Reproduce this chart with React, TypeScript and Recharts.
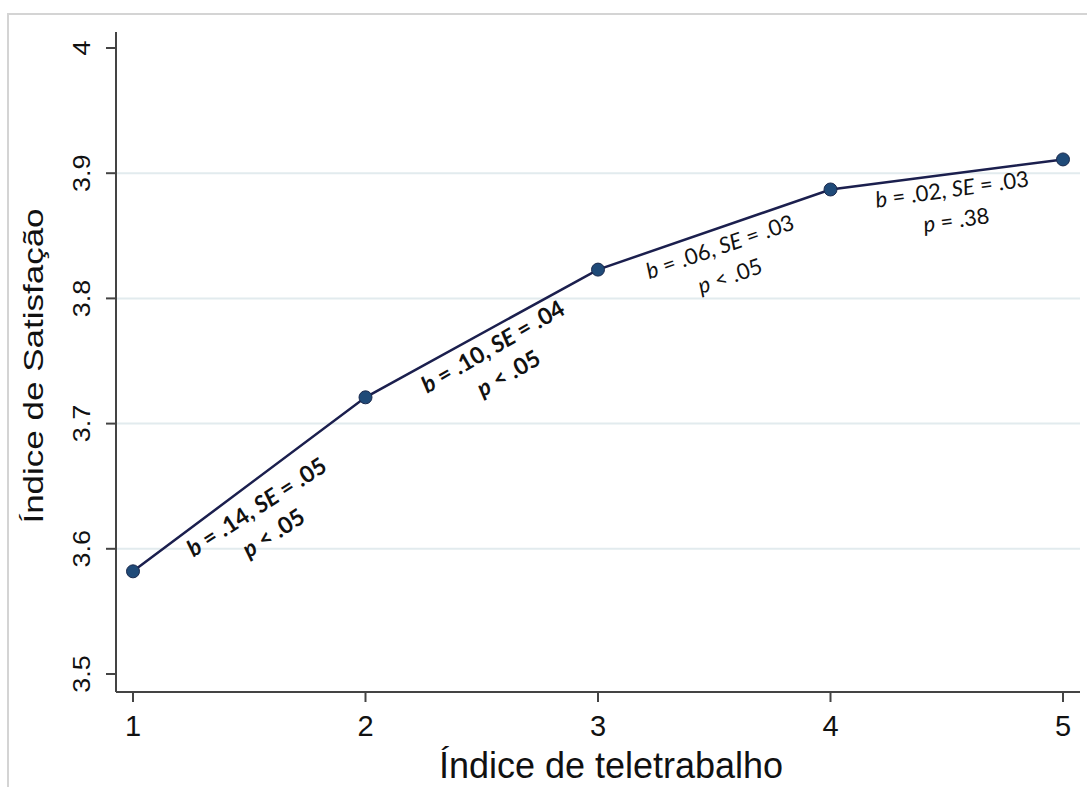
import React from 'react';
import { LineChart, Line, XAxis, YAxis, ReferenceLine, ReferenceDot } from 'recharts';

// teletrabalho index vs satisfaction (predicted margins)
const teleIndex = [1, 2, 3, 4, 5];
const satisfaction = [3.582, 3.721, 3.823, 3.887, 3.911];

const xTicks = [1, 2, 3, 4, 5];
const yTicks = [3.5, 3.6, 3.7, 3.8, 3.9, 4];
const gridValues = [3.6, 3.7, 3.8, 3.9];

// slope annotations between consecutive points
const annX = [1.55, 2.565, 3.535, 4.527];
const annY = [3.628, 3.756, 3.8355, 3.881];
const annB = ['.14', '.10', '.06', '.02'];
const annSE = ['.05', '.04', '.03', '.03'];
const annP = ['< .05', '< .05', '< .05', '= .38'];
const annAngle = [-33, -30, -19, -8];
const annBold = [true, true, false, false];

const data = teleIndex.map((x, i) => ({ x, y: satisfaction[i] }));

const axisFont = '"Liberation Sans", Arial, sans-serif';
const annFont = 'Lato, "Open Sans", sans-serif';

const YTick = (props: any) => {
  const { y, payload } = props;
  return (
    <text
      transform={`translate(90, ${y}) scale(0.92, 1) rotate(-90)`}
      textAnchor="middle"
      fontFamily={axisFont}
      fontSize={27}
      fill="#111"
    >
      {String(payload.value)}
    </text>
  );
};

const XTick = (props: any) => {
  const { x, payload } = props;
  return (
    <text x={x} y={736} textAnchor="middle" fontFamily={axisFont} fontSize={29} fill="#111">
      {String(payload.value)}
    </text>
  );
};

const makeAnnotation = (i: number) => (props: any) => {
  const { cx, cy } = props;
  const weight = annBold[i] ? 700 : 400;
  const size = annBold[i] ? 23 : 22;
  return (
    <g transform={`translate(${cx}, ${cy}) rotate(${annAngle[i]})`}>
      <text x={0} y={0} textAnchor="middle" fontFamily={annFont} fontSize={size} fontWeight={weight} fill="#111">
        <tspan fontStyle="italic">b</tspan>
        {` = ${annB[i]}, `}
        <tspan fontStyle="italic">SE</tspan>
        {` = ${annSE[i]}`}
      </text>
      <text x={0} y={31} textAnchor="middle" fontFamily={annFont} fontSize={size} fontWeight={weight} fill="#111">
        <tspan fontStyle="italic">p</tspan>
        {` ${annP[i]}`}
      </text>
    </g>
  );
};

export default function App() {
  return (
    <div style={{ position: 'absolute', left: 0, top: 0, width: 1087, height: 787, background: '#fff', overflow: 'hidden' }}>
      <div
        style={{
          position: 'absolute',
          left: 7,
          top: 13,
          width: 1100,
          height: 800,
          borderLeft: '2px solid #d4d4d4',
          borderTop: '2px solid #d4d4d4',
        }}
      />
      <div style={{ position: 'absolute', left: 0, top: 0 }}>
        <LineChart width={1087} height={787} data={data} margin={{ top: 32, right: 7, left: 0, bottom: 0 }}>
          {gridValues.map((v) => (
            <ReferenceLine key={v} y={v} stroke="#e2ebee" strokeWidth={2} />
          ))}
          <XAxis
            dataKey="x"
            type="number"
            domain={[1, 5]}
            ticks={xTicks}
            padding={{ left: 17, right: 17 }}
            height={95}
            tickSize={10}
            stroke="#444"
            strokeWidth={2}
            tick={<XTick />}
            label={{
              value: 'Índice de teletrabalho',
              position: 'insideBottom',
              offset: 9,
              style: { fontFamily: axisFont, fontSize: 36, fill: '#111' },
              dx: 13,
            }}
          />
          <YAxis
            type="number"
            domain={[3.5, 4]}
            ticks={yTicks}
            padding={{ top: 16, bottom: 18 }}
            width={116}
            tickSize={10}
            stroke="#444"
            strokeWidth={2}
            tick={<YTick />}
            allowDataOverflow
          />
          <text
            transform="translate(43, 366) scale(0.8, 1) rotate(-90)"
            textAnchor="middle"
            fontFamily={axisFont}
            fontSize={35}
            fill="#111"
          >
            Índice de Satisfação
          </text>
          <Line
            type="linear"
            dataKey="y"
            stroke="#1b1f4e"
            strokeWidth={2.5}
            dot={{ r: 6.5, fill: '#1f4a78', stroke: '#1b2a4e', strokeWidth: 1 }}
            isAnimationActive={false}
          />
          {annX.map((ax, i) => (
            <ReferenceDot key={i} x={ax} y={annY[i]} r={0} shape={makeAnnotation(i)} />
          ))}
        </LineChart>
      </div>
    </div>
  );
}
